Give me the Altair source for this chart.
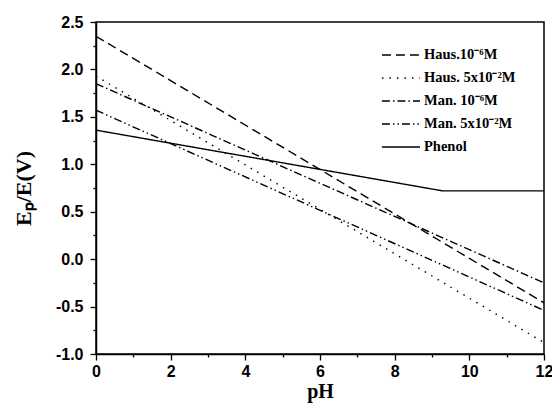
import altair as alt
import pandas as pd

series = ["Haus.10⁻⁶M", "Haus. 5x10⁻²M", "Man. 10⁻⁶M", "Man. 5x10⁻²M", "Phenol"]
ph_points = [[0, 12], [0, 12], [0, 12], [0, 12], [0, 9.28, 12]]
e_points = [[2.35, -0.46], [1.93, -0.88], [1.85, -0.25], [1.57, -0.54], [1.36, 0.72, 0.72]]
dashes = [[9, 5], [1.5, 6], [8, 3, 1.5, 3], [8, 3, 1.5, 3, 1.5, 3], [1, 0]]
x_ticks = list(range(0, 13))
y_ticks = [-1.0 + 0.25 * i for i in range(15)]

rows = []
for s, xs, ys in zip(series, ph_points, e_points):
    for i, (x, y) in enumerate(zip(xs, ys)):
        rows.append({"series": s, "pH": x, "E": y, "order": i})
df = pd.DataFrame(rows)

chart = alt.Chart(df).mark_line(color="black", strokeWidth=1.4, clip=True).encode(
    x=alt.X("pH:Q", scale=alt.Scale(domain=[0, 12], nice=False),
            axis=alt.Axis(title="pH", values=x_ticks, grid=False, labelFlush=False,
                          labelExpr="datum.value % 2 == 0 ? datum.label : ''",
                          labelPadding=3, titlePadding=2, titleFontSize=20,
                          tickSize={"condition": {"test": "datum.value % 2 != 0", "value": 3}, "value": 6})),
    y=alt.Y("E:Q", scale=alt.Scale(domain=[-1.0, 2.5], nice=False),
            axis=alt.Axis(title="Eₚ/E(V)", values=y_ticks, grid=False, labelFlush=False,
                          labelExpr="datum.value % 0.5 == 0 ? replace(format(datum.value, '.1f'), '\u2212', '-') : ''",
                          labelPadding=7, titlePadding=20,
                          tickSize={"condition": {"test": "datum.value % 0.5 != 0", "value": 3}, "value": 6})),
    strokeDash=alt.StrokeDash("series:N", scale=alt.Scale(domain=series, range=dashes),
                              legend=alt.Legend(title=None, orient="none", legendX=289, legendY=17,
                                                symbolType="M-1.27,0H1.27", symbolSize=900,
                                                symbolStrokeColor="black", symbolStrokeWidth=1.4,
                                                labelFont="Liberation Serif", labelFontWeight="bold",
                                                labelFontSize=14.5, labelColor="black",
                                                rowPadding=-0.5, labelOffset=7)),
    order="order:Q",
).properties(
    width=448, height=332,
    autosize=alt.AutoSizeParams(type="none"),
    padding={"left": 88, "top": 14, "right": 8, "bottom": 50},
).configure_view(
    stroke="black", strokeWidth=1.5
).configure_axis(
    domainColor="black", domainWidth=1.5, tickColor="black", tickWidth=1.3,
    labelFont="Liberation Sans", labelFontWeight="bold", labelFontSize=16, labelColor="black",
    titleFont="Liberation Serif", titleFontWeight="bold", titleFontSize=22, titleColor="black",
)

chart.save("out.html", embed_options={"renderer": "svg", "actions": False})
